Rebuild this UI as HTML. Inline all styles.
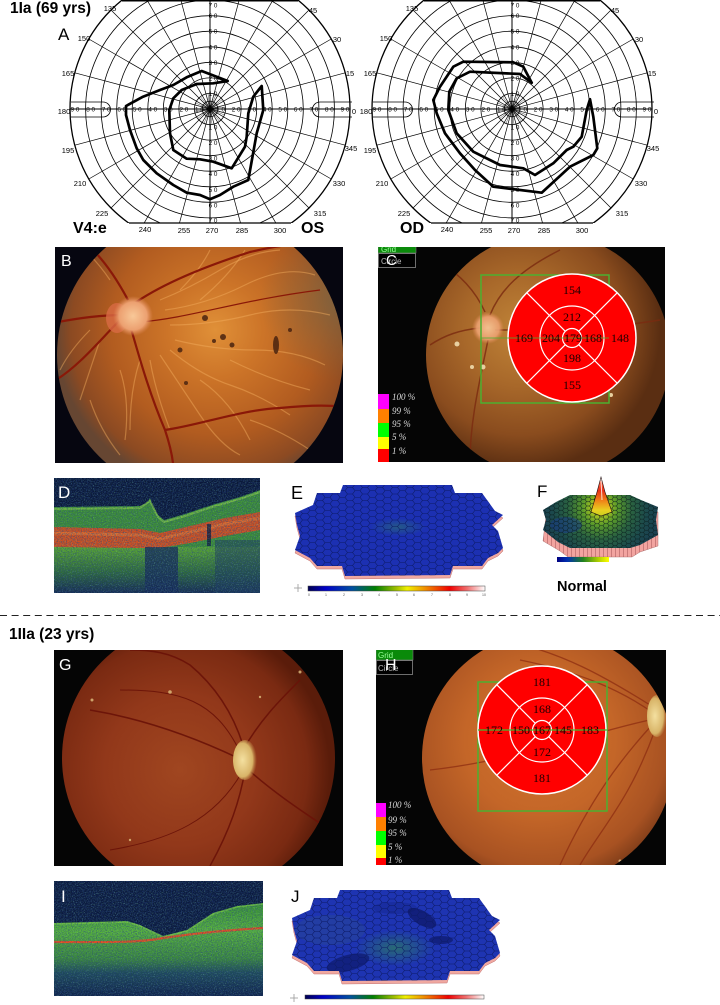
<!DOCTYPE html>
<html><head><meta charset="utf-8">
<style>
html,body{margin:0;padding:0;background:#fff;}
svg{display:block;}
text{font-family:"Liberation Sans",Arial,sans-serif;}
.pl{font-size:7.5px;fill:#000;text-anchor:middle;}
.ax{font-size:6.3px;fill:#000;text-anchor:middle;}
text.num,.num text{font-family:"Liberation Serif","Times New Roman",serif;font-size:12px;fill:#1a0000;text-anchor:middle;}
.lg text{font-family:"Liberation Serif",serif;font-style:italic;font-size:9px;fill:#ddd;}
.bt{font-size:8px;}
</style></head><body>
<svg width="720" height="1005" viewBox="0 0 720 1005" xmlns="http://www.w3.org/2000/svg">
<defs>
  <clipPath id="pc"><rect x="-146" y="-109" width="292" height="223"/></clipPath>
  <g id="pg">
    <g clip-path="url(#pc)" fill="none" stroke="#000">
      <g stroke-width="0.8">
        <circle r="7.8"/><circle r="15.6"/><circle r="31.1"/><circle r="46.7"/><circle r="62.2"/>
        <circle r="77.8"/><circle r="93.3"/><circle r="108.9"/><circle r="124.4"/>
      </g>
      <circle r="140" stroke-width="1.3"/>
      <g stroke-width="0.7">
        <line x1="135.2" y1="-36.2" x2="-135.2" y2="36.2"/>
        <line x1="121.2" y1="-70" x2="-121.2" y2="70"/>
        <line x1="99" y1="-99" x2="-99" y2="99"/>
        <line x1="70" y1="-121.2" x2="-70" y2="121.2"/>
        <line x1="36.2" y1="-135.2" x2="-36.2" y2="135.2"/>
        <line x1="-36.2" y1="-135.2" x2="36.2" y2="135.2"/>
        <line x1="-70" y1="-121.2" x2="70" y2="121.2"/>
        <line x1="-99" y1="-99" x2="99" y2="99"/>
        <line x1="-121.2" y1="-70" x2="121.2" y2="70"/>
        <line x1="-135.2" y1="-36.2" x2="135.2" y2="36.2"/>
      </g>
      <g stroke-width="0.35">
        <line x1="15.47" y1="-2.04" x2="-15.47" y2="2.04"/>
        <line x1="12.38" y1="-9.5" x2="-12.38" y2="9.5"/>
        <line x1="5.97" y1="-14.41" x2="-5.97" y2="14.41"/>
        <line x1="-2.04" y1="-15.47" x2="2.04" y2="15.47"/>
        <line x1="-9.5" y1="-12.38" x2="9.5" y2="12.38"/>
        <line x1="-14.41" y1="-5.97" x2="14.41" y2="5.97"/>
      </g>
      <line x1="-140" y1="0" x2="140" y2="0" stroke-width="1"/>
      <line x1="0" y1="-140" x2="0" y2="140" stroke-width="1"/>
    </g>
    <line x1="-88" y1="-108.3" x2="88" y2="-108.3" stroke="#000" stroke-width="1.5"/>
    <line x1="-81" y1="114" x2="81" y2="114" stroke="#000" stroke-width="1.2"/>
    <path d="M-139,-7 H-107 A7.5,7.5 0 0 1 -107,8 H-139" fill="none" stroke="#000" stroke-width="0.8"/>
    <path d="M142,-7 H110 A7.5,7.5 0 0 0 110,8 H142" fill="none" stroke="#000" stroke-width="0.8"/>
  </g>

  <pattern id="hex" width="15" height="6.5" patternUnits="userSpaceOnUse">
    <path d="M0,3.25 L2.5,0 L7.5,0 L10,3.25 L7.5,6.5 L2.5,6.5 Z M10,3.25 L15,3.25" fill="none" stroke="#0c1a66" stroke-width="0.6"/>
  </pattern>
  <pattern id="hexF" width="9" height="4.4" patternUnits="userSpaceOnUse">
    <path d="M0,2.2 L1.5,0 L4.5,0 L6,2.2 L4.5,4.4 L1.5,4.4 Z M6,2.2 L9,2.2" fill="none" stroke="#0a1e1e" stroke-width="0.5"/>
  </pattern>
  <pattern id="wall" width="4" height="10" patternUnits="userSpaceOnUse">
    <rect width="4" height="10" fill="#f2a4a0"/><line x1="3.5" y1="0" x2="3.5" y2="10" stroke="#b06060" stroke-width="0.6"/>
  </pattern>

  <linearGradient id="sc" x1="0" x2="1" y1="0" y2="0">
    <stop offset="0" stop-color="#000050"/><stop offset=".1" stop-color="#0000c8"/>
    <stop offset=".25" stop-color="#0050a0"/><stop offset=".38" stop-color="#008000"/>
    <stop offset=".5" stop-color="#a0c000"/><stop offset=".56" stop-color="#f0f000"/>
    <stop offset=".66" stop-color="#f09000"/><stop offset=".8" stop-color="#f00000"/>
    <stop offset=".9" stop-color="#f07070"/><stop offset="1" stop-color="#ffffff"/>
  </linearGradient>
  <linearGradient id="scF" x1="0" x2="1" y1="0" y2="0">
    <stop offset="0" stop-color="#000080"/><stop offset=".2" stop-color="#0030b0"/>
    <stop offset=".5" stop-color="#208020"/><stop offset=".8" stop-color="#b0d000"/>
    <stop offset="1" stop-color="#ffff00"/>
  </linearGradient>

  <radialGradient id="gB" gradientUnits="userSpaceOnUse" cx="215" cy="330" r="160">
    <stop offset="0" stop-color="#e09038"/><stop offset=".3" stop-color="#cc7428"/>
    <stop offset=".65" stop-color="#b25c20"/><stop offset=".9" stop-color="#8c4a22"/>
    <stop offset="1" stop-color="#664632"/>
  </radialGradient>
  <radialGradient id="gGray" gradientUnits="userSpaceOnUse" cx="340" cy="300" r="80">
    <stop offset="0" stop-color="#6a6a50" stop-opacity=".6"/><stop offset="1" stop-color="#6a6a50" stop-opacity="0"/>
  </radialGradient>
  <radialGradient id="gC" gradientUnits="userSpaceOnUse" cx="520" cy="330" r="140">
    <stop offset="0" stop-color="#c08438"/><stop offset=".4" stop-color="#a8682a"/>
    <stop offset=".75" stop-color="#8a4c1e"/><stop offset="1" stop-color="#5a2e12"/>
  </radialGradient>
  <radialGradient id="gG" gradientUnits="userSpaceOnUse" cx="180" cy="770" r="150">
    <stop offset="0" stop-color="#a04620"/><stop offset=".5" stop-color="#92381a"/>
    <stop offset=".85" stop-color="#7a2a12"/><stop offset="1" stop-color="#5a1c0a"/>
  </radialGradient>
  <radialGradient id="gH" gradientUnits="userSpaceOnUse" cx="540" cy="740" r="150">
    <stop offset="0" stop-color="#d2742e"/><stop offset=".5" stop-color="#c46628"/>
    <stop offset=".85" stop-color="#a85222"/><stop offset="1" stop-color="#7a3a18"/>
  </radialGradient>
  <radialGradient id="disc" cx=".5" cy=".5" r=".5">
    <stop offset="0" stop-color="#f8c898"/><stop offset=".7" stop-color="#eca070"/><stop offset="1" stop-color="#e08858" stop-opacity="0"/>
  </radialGradient>
  <radialGradient id="discY" cx=".4" cy=".5" r=".6">
    <stop offset="0" stop-color="#f4e0a0"/><stop offset=".7" stop-color="#d8b468"/><stop offset="1" stop-color="#b88040" stop-opacity="0"/>
  </radialGradient>
  <radialGradient id="gF" gradientUnits="userSpaceOnUse" cx="600" cy="508" r="58">
    <stop offset="0" stop-color="#e0e020"/><stop offset=".12" stop-color="#b0c820"/>
    <stop offset=".3" stop-color="#5a9a2a"/><stop offset=".55" stop-color="#2a6240"/>
    <stop offset=".8" stop-color="#1c4a4c"/><stop offset="1" stop-color="#1a4050"/>
  </radialGradient>
  <linearGradient id="gPk" x1="0" y1="477" x2="0" y2="516" gradientUnits="userSpaceOnUse">
    <stop offset="0" stop-color="#ffffff"/><stop offset=".15" stop-color="#ff6040"/>
    <stop offset=".35" stop-color="#e83018"/><stop offset=".6" stop-color="#f08018"/>
    <stop offset=".85" stop-color="#e8d020"/><stop offset="1" stop-color="#c8d020"/>
  </linearGradient>
  <radialGradient id="gGrn" cx=".5" cy=".5" r=".5">
    <stop offset="0" stop-color="#2f8a50" stop-opacity=".9"/><stop offset="1" stop-color="#2f8a50" stop-opacity="0"/>
  </radialGradient>
  <linearGradient id="gDlow" x1="0" y1="547" x2="0" y2="593" gradientUnits="userSpaceOnUse">
    <stop offset="0" stop-color="#5aa830"/><stop offset=".55" stop-color="#2e6a3a"/><stop offset="1" stop-color="#152a50"/>
  </linearGradient>
  <linearGradient id="gI" x1="0" y1="903" x2="0" y2="996" gradientUnits="userSpaceOnUse">
    <stop offset="0" stop-color="#3a9432"/><stop offset=".3" stop-color="#58b43a"/>
    <stop offset=".6" stop-color="#3c8a3c"/><stop offset=".75" stop-color="#1e4a58"/>
    <stop offset="1" stop-color="#0f2248"/>
  </linearGradient>

  <filter id="spk" x="0" y="0" width="1" height="1">
    <feTurbulence type="fractalNoise" baseFrequency="0.8" numOctaves="2" seed="7"/>
    <feColorMatrix type="matrix" values="0 0 0 0 0.02  0 0 0 0 0.06  0 0 0 0 0.22  0 0 0 -2.2 1.35"/>
  </filter>
  <filter id="spkG" x="0" y="0" width="1" height="1">
    <feTurbulence type="fractalNoise" baseFrequency="0.9" numOctaves="2" seed="11"/>
    <feColorMatrix type="matrix" values="0 0 0 0 0.2  0 0 0 0 0.6  0 0 0 0 0.35  0 0 0 2.6 -1.45"/>
  </filter>

  <clipPath id="rB"><rect x="55" y="247" width="288" height="216"/></clipPath>
  <clipPath id="cB"><circle cx="200" cy="355" r="143"/></clipPath>
  <clipPath id="rC"><rect x="378" y="247" width="287" height="215"/></clipPath>
  <clipPath id="cC"><circle cx="548" cy="355" r="122"/></clipPath>
  <clipPath id="rG"><rect x="54" y="650" width="289" height="216"/></clipPath>
  <clipPath id="cG"><circle cx="198.5" cy="758" r="136.5"/></clipPath>
  <clipPath id="rH"><rect x="376" y="650" width="290" height="215"/></clipPath>
  <clipPath id="cH"><circle cx="548" cy="758" r="126"/></clipPath>
  <clipPath id="rD"><rect x="54" y="478" width="206" height="115"/></clipPath>
  <clipPath id="rI"><rect x="54" y="881" width="209" height="115"/></clipPath>
  <clipPath id="cE"><polygon points="343,485 452,485 455,493 482,493 495,511 503,515 492,525 498,531 503,548 498,553 488,558 482,566 453,566 450,575 345,576 342,566 317,566 310,558 295,550 300,536 297,525 295,513 313,505 317,493 340,493"/></clipPath>
</defs>

<!-- ===== Titles ===== -->
<text x="10" y="13" font-size="15.5" font-weight="bold">1Ia (69 yrs)</text>
<text x="58" y="40" font-size="17">A</text>

<!-- ===== Polar charts ===== -->
<use href="#pg" transform="translate(210,109)"/>
<use href="#pg" transform="translate(512,109)"/>

<g class="pl">
  <text x="110" y="11">135</text><text x="313" y="13">45</text>
  <text x="84" y="41">150</text><text x="337" y="42">30</text>
  <text x="68" y="76">165</text><text x="350" y="76">15</text>
  <text x="64" y="114">180</text><text x="354" y="114">0</text>
  <text x="68" y="153">195</text><text x="351" y="151">345</text>
  <text x="80" y="186">210</text><text x="339" y="186">330</text>
  <text x="102" y="216">225</text><text x="320" y="216">315</text>
  <text x="145" y="232">240</text><text x="184" y="233">255</text>
  <text x="212" y="233">270</text><text x="242" y="233">285</text><text x="280" y="233">300</text>

  <text x="412" y="11">135</text><text x="615" y="13">45</text>
  <text x="386" y="41">150</text><text x="639" y="42">30</text>
  <text x="370" y="76">165</text><text x="652" y="76">15</text>
  <text x="366" y="114">180</text><text x="656" y="114">0</text>
  <text x="370" y="153">195</text><text x="653" y="151">345</text>
  <text x="382" y="186">210</text><text x="641" y="186">330</text>
  <text x="404" y="216">225</text><text x="622" y="216">315</text>
  <text x="447" y="232">240</text><text x="486" y="233">255</text>
  <text x="514" y="233">270</text><text x="544" y="233">285</text><text x="582" y="233">300</text>
</g>

<g class="ax">
  <text x="220.6" y="111.5">1 0</text><text x="236.1" y="111.5">2 0</text><text x="251.7" y="111.5">3 0</text>
  <text x="267.2" y="111.5">4 0</text><text x="282.8" y="111.5">5 0</text><text x="298.3" y="111.5">6 0</text>
  <text x="313.9" y="111.5">7 0</text><text x="329.4" y="111.5">8 0</text><text x="345" y="111.5">9 0</text>
  <text x="199.4" y="111.5">1 0</text><text x="183.9" y="111.5">2 0</text><text x="168.3" y="111.5">3 0</text>
  <text x="152.8" y="111.5">4 0</text><text x="137.2" y="111.5">5 0</text><text x="121.7" y="111.5">6 0</text>
  <text x="106.1" y="111.5">7 0</text><text x="90.6" y="111.5">8 0</text><text x="75" y="111.5">9 0</text>
  <text x="213" y="95.9">1 0</text><text x="213" y="80.4">2 0</text><text x="213" y="64.8">3 0</text>
  <text x="213" y="49.3">4 0</text><text x="213" y="33.7">5 0</text><text x="213" y="18.2">6 0</text>
  <text x="213" y="7.5">7 0</text>
  <text x="213" y="129.6">1 0</text><text x="213" y="145.1">2 0</text><text x="213" y="160.7">3 0</text>
  <text x="213" y="176.2">4 0</text><text x="213" y="191.8">5 0</text><text x="213" y="207.3">6 0</text>
  <text x="213" y="222.5">7 0</text>
  <text x="522.6" y="111.5">1 0</text><text x="538.1" y="111.5">2 0</text><text x="553.7" y="111.5">3 0</text>
  <text x="569.2" y="111.5">4 0</text><text x="584.8" y="111.5">5 0</text><text x="600.3" y="111.5">6 0</text>
  <text x="615.9" y="111.5">7 0</text><text x="631.4" y="111.5">8 0</text><text x="647" y="111.5">9 0</text>
  <text x="501.4" y="111.5">1 0</text><text x="485.9" y="111.5">2 0</text><text x="470.3" y="111.5">3 0</text>
  <text x="454.8" y="111.5">4 0</text><text x="439.2" y="111.5">5 0</text><text x="423.7" y="111.5">6 0</text>
  <text x="408.1" y="111.5">7 0</text><text x="392.6" y="111.5">8 0</text><text x="377" y="111.5">9 0</text>
  <text x="515" y="95.9">1 0</text><text x="515" y="80.4">2 0</text><text x="515" y="64.8">3 0</text>
  <text x="515" y="49.3">4 0</text><text x="515" y="33.7">5 0</text><text x="515" y="18.2">6 0</text>
  <text x="515" y="7.5">7 0</text>
  <text x="515" y="129.6">1 0</text><text x="515" y="145.1">2 0</text><text x="515" y="160.7">3 0</text>
  <text x="515" y="176.2">4 0</text><text x="515" y="191.8">5 0</text><text x="515" y="207.3">6 0</text>
  <text x="515" y="222.5">7 0</text>
</g>

<!-- isopters -->
<g fill="none" stroke="#000" stroke-width="2.7" stroke-linejoin="round" stroke-linecap="round">
  <polyline points="227.7,81 201.7,71 186.7,77.3 173.3,85 160,90 143,96.7 126,106 126,115 130,130 136.7,148.3 143.3,160 156.7,173.3 173.3,185 186.7,192.7 200,195 210,199.3 220,195 233.3,186.7 248.3,180 256.7,133.3 263.3,110 261.7,86 253.3,96.7 248.3,113.3 246.7,136.7 245,146.7 231.7,168.3 213.3,161.7 200,159.3 186.7,158.7 173.3,150 170,133.3 169.3,110 173.3,98.3 181.7,90 196.7,84 213.3,83.3 227.7,81"/>
  <polyline points="531.7,82.7 523.3,66.7 513.3,62.3 463.3,61.7 453.3,66.7 440,86.7 433.3,100 436.7,113.3 445,133.3 460,153.3 475,170 493.3,186.7 541.7,192.7 570,166.7 593.3,155 597.3,148.3 593.3,116.7 590,99.3 586.7,110 581.7,136.7 573.3,146.7 566.7,150 553.3,163.3 535,175 523.3,168.3 500,165 473.3,151.7 456.7,133.3 448.3,110 449.3,91.7 456.7,78.3 470,71.7 520,74 531.7,82.7"/>
</g>

<text x="73" y="233" font-size="16" font-weight="bold">V4:e</text>
<text x="301" y="233" font-size="16" font-weight="bold">OS</text>
<text x="400" y="233" font-size="16" font-weight="bold">OD</text>

<!-- ===== B fundus ===== -->
<g clip-path="url(#rB)">
  <rect x="55" y="247" width="288" height="216" fill="#060610"/>
  <g clip-path="url(#cB)">
    <rect x="55" y="200" width="290" height="310" fill="url(#gB)"/>
    <rect x="255" y="200" width="90" height="200" fill="url(#gGray)"/>
    <g fill="none" stroke="#f4b060" stroke-opacity=".45" stroke-width="1.2">
      <path d="M160,300 q30,-12 60,-30 t60,-20"/><path d="M165,310 q40,-5 80,-25 t70,-10"/>
      <path d="M170,325 q40,0 80,-10 t80,0"/><path d="M175,340 q40,10 80,10 t70,15"/>
      <path d="M170,350 q30,25 60,35 t60,30"/><path d="M160,355 q20,30 40,60 t40,40"/>
      <path d="M150,360 q5,30 20,70"/><path d="M140,360 q-10,30 -10,70"/>
      <path d="M100,340 q-10,30 -20,60"/><path d="M90,330 q-20,20 -30,40"/>
      <path d="M180,290 q20,-20 30,-40"/><path d="M200,300 q30,-25 45,-50"/>
      <path d="M120,370 q10,30 5,70"/><path d="M200,380 q30,20 50,60"/>
      <path d="M230,360 q40,20 80,30"/><path d="M110,280 q-10,-15 -25,-30"/>
      <path d="M90,400 q10,30 30,55"/><path d="M250,420 q30,10 60,30"/>
    </g>
    <g fill="none" stroke="#8a1808" stroke-width="2.2">
      <path d="M128,300 C120,285 110,268 95,252"/>
      <path d="M132,305 C160,285 200,268 250,252 C280,245 300,242 320,248"/>
      <path d="M130,325 C140,360 150,395 165,430 C170,445 172,455 173,463"/>
      <path d="M165,430 C200,425 240,410 280,408 C310,405 330,405 345,407"/>
      <path d="M120,320 C100,340 80,365 56,380"/>
      <path d="M125,315 C100,315 80,318 58,322"/>
      <path d="M140,322 C190,318 240,300 320,290" stroke-width="1.2"/>
    </g>
    <ellipse cx="117" cy="318" rx="11" ry="15" fill="#d86a44" opacity=".8"/>
    <circle cx="133" cy="316" r="20" fill="url(#disc)"/>
    <g fill="#4a2410" opacity=".85">
      <circle cx="205" cy="318" r="3"/><circle cx="223" cy="337" r="3"/><circle cx="232" cy="345" r="2.5"/>
      <circle cx="214" cy="341" r="2"/><ellipse cx="276" cy="345" rx="3" ry="9"/><circle cx="180" cy="350" r="2.5"/>
      <circle cx="186" cy="383" r="2"/><circle cx="290" cy="330" r="2"/>
    </g>
  </g>
  <text x="61" y="266" font-size="16" fill="#fff">B</text>
</g>

<!-- ===== C fundus + ETDRS ===== -->
<g clip-path="url(#rC)">
  <rect x="378" y="247" width="287" height="215" fill="#050505"/>
  <g clip-path="url(#cC)">
    <rect x="420" y="230" width="250" height="250" fill="url(#gC)"/>
    <g fill="none" stroke="#7a2a10" stroke-width="1.5" opacity=".8">
      <path d="M490,315 C500,290 520,270 560,250"/>
      <path d="M488,340 C480,380 470,420 470,462"/>
      <path d="M480,328 C460,330 445,335 430,345"/>
      <path d="M495,330 C540,330 600,330 660,320"/>
      <path d="M485,312 C475,290 460,275 440,262"/>
    </g>
    <circle cx="488" cy="328" r="16" fill="url(#disc)" opacity=".9"/>
    <g fill="#e8d0a0"><circle cx="457" cy="344" r="2.5"/><circle cx="472" cy="367" r="2"/><circle cx="483" cy="367" r="2.5"/><circle cx="611" cy="395" r="2"/></g>
  </g>
  <rect x="481" y="275" width="128" height="128" fill="none" stroke="#4cb030" stroke-width="1.5"/>
  <circle cx="572" cy="338" r="64" fill="#ff0000" stroke="#fff" stroke-width="1.5"/>
  <g stroke="#fff" stroke-width="1.2" fill="none">
    <circle cx="572" cy="338" r="32"/>
    <circle cx="572" cy="338" r="9.5"/>
    <line x1="578.7" y1="331.3" x2="617.3" y2="292.7"/>
    <line x1="565.3" y1="331.3" x2="526.7" y2="292.7"/>
    <line x1="578.7" y1="344.7" x2="617.3" y2="383.3"/>
    <line x1="565.3" y1="344.7" x2="526.7" y2="383.3"/>
  </g>
  <line x1="481" y1="338" x2="609" y2="338" stroke="#4cb030" stroke-width="1" opacity=".8"/>
  <g class="num">
    <text x="572" y="294">154</text><text x="572" y="321">212</text>
    <text x="524" y="342">169</text><text x="551" y="342">204</text><text x="573" y="342">179</text>
    <text x="593" y="342">168</text><text x="620" y="342">148</text>
    <text x="572" y="362">198</text><text x="572" y="389">155</text>
  </g>
  <rect x="378" y="394" width="11" height="15" fill="#ff00ff"/>
  <rect x="378" y="409" width="11" height="14" fill="#ff8000"/>
  <rect x="378" y="423" width="11" height="14" fill="#00ff00"/>
  <rect x="378" y="437" width="11" height="12" fill="#ffff00"/>
  <rect x="378" y="449" width="11" height="13" fill="#ff0000"/>
  <g class="lg">
    <text x="392" y="400">100 %</text><text x="392" y="414">99 %</text><text x="392" y="427">95 %</text>
    <text x="392" y="440">5 %</text><text x="392" y="454">1 %</text>
  </g>
  <rect x="378" y="245" width="38" height="8" fill="#0a8a0a" stroke="#7a7a7a" stroke-width=".6"/>
  <text x="381" y="252" class="bt" fill="#9f9">Grid</text>
  <rect x="378.5" y="253.5" width="37" height="14" fill="#000" stroke="#8a8a8a" stroke-width=".8"/>
  <text x="381" y="264" class="bt" fill="#bbb">Circle</text>
  <text x="386" y="265" font-size="15" fill="#fff">C</text>
</g>

<!-- ===== D OCT ===== -->
<g clip-path="url(#rD)">
  <rect x="54" y="478" width="206" height="115" fill="#0a1838"/>
  <path d="M54,507 L140,506 L147,503 L150,498 L152,506 L158,515 L164,520 L185,514 L215,504 L240,497 L260,490 L260,593 L54,593 Z" fill="#3e9034"/>
  <path d="M54,509 L140,508 L150,501 L158,517 L164,522 L185,516 L215,506 L240,499 L260,492" fill="none" stroke="#8ad040" stroke-width="2" opacity=".7"/>
  <rect x="54" y="547" width="206" height="46" fill="url(#gDlow)"/>
  <path d="M54,527 L140,529 L160,533 L190,526 L225,518 L260,512 L260,530 L225,536 L190,543 L160,548 L140,548 L54,547 Z" fill="#d2501e"/>
  <path d="M54,533 L140,535 L160,539 L190,532 L225,524 L260,518" fill="none" stroke="#f07a30" stroke-width="3" opacity=".6"/>
  <rect x="145" y="547" width="33" height="46" fill="#152a55" opacity=".8"/>
  <rect x="215" y="540" width="45" height="53" fill="#1c3a5a" opacity=".55"/>
  <rect x="207" y="524" width="4" height="22" fill="#0a1838" opacity=".8"/>
  <rect x="54" y="478" width="206" height="115" filter="url(#spk)" opacity=".7"/>
  <rect x="54" y="478" width="206" height="115" filter="url(#spkG)" opacity=".6"/>
  <text x="58" y="498" font-size="17" fill="#fff">D</text>
</g>

<!-- ===== E ===== -->
<text x="291" y="499" font-size="18">E</text>
<polygon transform="translate(0,3)" points="343,485 452,485 455,493 482,493 495,511 503,515 492,525 498,531 503,548 498,553 488,558 482,566 453,566 450,575 345,576 342,566 317,566 310,558 295,550 300,536 297,525 295,513 313,505 317,493 340,493" fill="#f0a8a0" stroke="#c07070" stroke-width=".5"/>
<g clip-path="url(#cE)">
  <rect x="290" y="480" width="220" height="100" fill="#1c30b2"/>
  <ellipse cx="398" cy="527" rx="28" ry="9" fill="url(#gGrn)" opacity=".5"/>
  <rect x="290" y="480" width="220" height="100" fill="url(#hex)"/>
</g>
<g stroke="#999" stroke-width=".8"><line x1="298" y1="584" x2="298" y2="592"/><line x1="294" y1="588" x2="302" y2="588"/></g>
<rect x="308" y="586" width="177" height="5" fill="url(#sc)" stroke="#444" stroke-width=".5"/>
<g font-size="3.5" fill="#555" text-anchor="middle">
  <text x="309" y="596">0</text><text x="326" y="596">1</text><text x="344" y="596">2</text><text x="362" y="596">3</text>
  <text x="379" y="596">4</text><text x="397" y="596">5</text><text x="414" y="596">6</text><text x="432" y="596">7</text>
  <text x="450" y="596">8</text><text x="467" y="596">9</text><text x="484" y="596">10</text>
</g>

<!-- ===== F ===== -->
<text x="537" y="497" font-size="17">F</text>
<polygon points="546,516 560,505 640,505 658,512 658,546 640,552 632,557 568,557 560,551 543,541" fill="url(#wall)" stroke="#a06060" stroke-width=".4"/>
<polygon points="570,495 630,495 641,500 658,507 656,520 658,535 640,545 630,548 570,548 558,542 543,530 546,520 543,510 556,502" fill="url(#gF)"/>
<ellipse cx="566" cy="525" rx="16" ry="8" fill="#1a3a88" opacity=".55"/>
<polygon points="570,495 630,495 641,500 658,507 656,520 658,535 640,545 630,548 570,548 558,542 543,530 546,520 543,510 556,502" fill="url(#hexF)"/>
<polygon points="591,512 597,492 601,477 605,492 612,512 601,516" fill="url(#gPk)" stroke="#201010" stroke-width=".6"/>
<path d="M601,479 L602,500" stroke="#fff" stroke-width="1" opacity=".8"/>
<rect x="557" y="557" width="52" height="5" fill="url(#scF)"/>
<text x="557" y="591" font-size="14.5" font-weight="bold">Normal</text>

<!-- ===== Dashed separator ===== -->
<line x1="0" y1="615.5" x2="720" y2="615.5" stroke="#222" stroke-width="1" stroke-dasharray="7 4.6"/>
<text x="9" y="639" font-size="15.5" font-weight="bold">1IIa (23 yrs)</text>

<!-- ===== G fundus ===== -->
<g clip-path="url(#rG)">
  <rect x="54" y="650" width="289" height="216" fill="#050505"/>
  <g clip-path="url(#cG)">
    <rect x="55" y="615" width="290" height="290" fill="url(#gG)"/>
    <g fill="none" stroke="#6a1208" stroke-width="1.5" opacity=".9">
      <path d="M243,745 C235,720 220,690 190,665 C170,652 150,650 130,650"/>
      <path d="M245,770 C240,800 230,830 210,866"/>
      <path d="M243,750 C260,720 280,700 300,680"/>
      <path d="M243,765 C270,790 300,810 330,830"/>
      <path d="M238,758 C200,740 150,720 90,710"/>
      <path d="M240,752 C215,700 180,690 120,690" stroke-width="1"/>
      <path d="M242,772 C215,820 170,840 110,850" stroke-width="1"/>
    </g>
    <ellipse cx="245" cy="760" rx="12" ry="20" fill="url(#discY)"/>
    <g fill="#e0c080" opacity=".8"><circle cx="170" cy="692" r="1.8"/><circle cx="92" cy="700" r="1.5"/><circle cx="300" cy="672" r="1.5"/><circle cx="260" cy="697" r="1.2"/><circle cx="130" cy="840" r="1.2"/></g>
  </g>
  <text x="59" y="670" font-size="16" fill="#fff">G</text>
</g>

<!-- ===== H fundus + ETDRS ===== -->
<g clip-path="url(#rH)">
  <rect x="376" y="650" width="290" height="215" fill="#050505"/>
  <g clip-path="url(#cH)">
    <rect x="420" y="630" width="250" height="260" fill="url(#gH)"/>
    <g fill="none" stroke="#8a2a10" stroke-width="1.3" opacity=".7">
      <path d="M652,712 C620,690 580,672 520,660"/>
      <path d="M652,725 C620,760 590,800 560,865"/>
      <path d="M650,720 C600,730 520,760 430,770"/>
      <path d="M650,705 C610,680 560,650 500,640"/>
      <path d="M655,730 C630,800 600,830 580,865"/>
    </g>
    <ellipse cx="657" cy="716" rx="10" ry="21" fill="url(#discY)"/>
    <g fill="#e8c890" opacity=".8"><circle cx="470" cy="655" r="1.5"/><circle cx="620" cy="861" r="1.5"/><circle cx="434" cy="820" r="1.2"/></g>
  </g>
  <rect x="478" y="682" width="129" height="129" fill="none" stroke="#4cb030" stroke-width="1.5"/>
  <circle cx="542" cy="730" r="64" fill="#ff0000" stroke="#fff" stroke-width="1.5"/>
  <g stroke="#fff" stroke-width="1.2" fill="none">
    <circle cx="542" cy="730" r="32"/>
    <circle cx="542" cy="730" r="9.5"/>
    <line x1="548.7" y1="723.3" x2="587.3" y2="684.7"/>
    <line x1="535.3" y1="723.3" x2="496.7" y2="684.7"/>
    <line x1="548.7" y1="736.7" x2="587.3" y2="775.3"/>
    <line x1="535.3" y1="736.7" x2="496.7" y2="775.3"/>
  </g>
  <line x1="478" y1="730" x2="607" y2="730" stroke="#3cc030" stroke-width="1.2"/>
  <g class="num">
    <text x="542" y="686">181</text><text x="542" y="713">168</text>
    <text x="494" y="734">172</text><text x="521" y="734">150</text><text x="542" y="734">167</text>
    <text x="563" y="734">145</text><text x="590" y="734">183</text>
    <text x="542" y="756">172</text><text x="542" y="782">181</text>
  </g>
  <rect x="376" y="803" width="10" height="14" fill="#ff00ff"/>
  <rect x="376" y="817" width="10" height="14" fill="#ff8000"/>
  <rect x="376" y="831" width="10" height="14" fill="#00ff00"/>
  <rect x="376" y="845" width="10" height="13" fill="#ffff00"/>
  <rect x="376" y="858" width="10" height="7" fill="#ff0000"/>
  <g class="lg">
    <text x="388" y="808">100 %</text><text x="388" y="823">99 %</text><text x="388" y="836">95 %</text>
    <text x="388" y="850">5 %</text><text x="388" y="863">1 %</text>
  </g>
  <rect x="376" y="648" width="37" height="12" fill="#0a8a0a" stroke="#7a7a7a" stroke-width=".6"/>
  <text x="378" y="658" class="bt" fill="#9f9">Grid</text>
  <rect x="376.5" y="660.5" width="36" height="14" fill="#000" stroke="#8a8a8a" stroke-width=".8"/>
  <text x="378" y="671" class="bt" fill="#bbb">Circle</text>
  <text x="385" y="670" font-size="16" fill="#fff">H</text>
</g>

<!-- ===== I OCT ===== -->
<g clip-path="url(#rI)">
  <rect x="54" y="881" width="209" height="115" fill="#0b1a3c"/>
  <path d="M54,923 L90,922 L127,921 L140,925 L163,936 L187,930 L213,913 L237,906 L263,903 L263,996 L54,996 Z" fill="url(#gI)"/>
  <path d="M54,924 L90,923 L127,922 L140,926 L163,937 L187,931 L213,914 L237,907 L263,904" fill="none" stroke="#80d040" stroke-width="1.5" opacity=".7"/>
  <path d="M54,942 C100,942 140,943 163,938 C190,934 230,930 263,928" fill="none" stroke="#e85020" stroke-width="2.2"/>
  <rect x="54" y="881" width="209" height="115" filter="url(#spk)" opacity=".7"/>
  <rect x="54" y="881" width="209" height="115" filter="url(#spkG)" opacity=".6"/>
  <text x="61" y="902" font-size="17" fill="#fff">I</text>
</g>

<!-- ===== J ===== -->
<text x="291" y="902" font-size="17">J</text>
<g transform="translate(-3,405)">
  <polygon transform="translate(0,3)" points="343,485 452,485 455,493 482,493 495,511 503,515 492,525 498,531 503,548 498,553 488,558 482,566 453,566 450,575 345,576 342,566 317,566 310,558 295,550 300,536 297,525 295,513 313,505 317,493 340,493" fill="#f0a8a0" stroke="#c07070" stroke-width=".5"/>
  <g clip-path="url(#cE)">
    <rect x="290" y="480" width="220" height="100" fill="#1e34b2"/>
    <ellipse cx="333" cy="525" rx="35" ry="15" fill="#2a4a90" opacity=".45"/>
    <ellipse cx="398" cy="543" rx="40" ry="18" fill="url(#gGrn)" opacity=".7"/>
    <ellipse cx="398" cy="503" rx="22" ry="6" fill="#142690" opacity=".5"/>
    <ellipse cx="425" cy="513" rx="16" ry="7" transform="rotate(30 425 513)" fill="#0a1258" opacity=".6"/>
    <ellipse cx="444" cy="535" rx="12" ry="4" fill="#0a1258" opacity=".55"/>
    <ellipse cx="351" cy="558" rx="22" ry="8" transform="rotate(-15 351 558)" fill="#0a1258" opacity=".55"/>
    <rect x="290" y="480" width="220" height="100" fill="url(#hex)"/>
  </g>
</g>
<g stroke="#999" stroke-width=".8"><line x1="294" y1="994" x2="294" y2="1002"/><line x1="290" y1="998" x2="298" y2="998"/></g>
<rect x="305" y="995" width="179" height="4" fill="url(#sc)" stroke="#444" stroke-width=".5"/>
</svg>
</body></html>
